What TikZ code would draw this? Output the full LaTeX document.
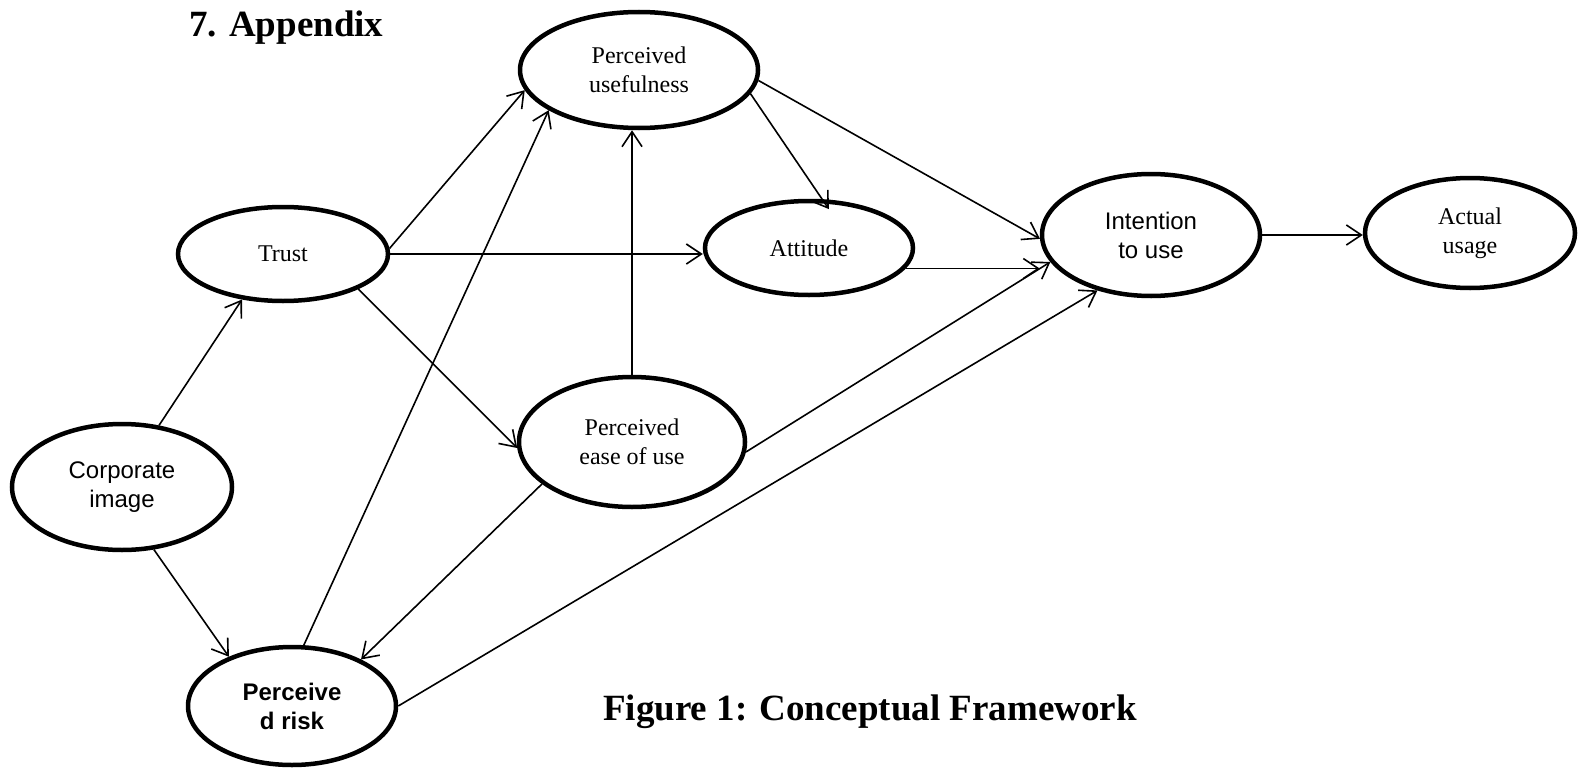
\documentclass[tikz,border=0pt]{standalone}
\usepackage{fontspec}
\setmainfont{Liberation Serif}
\newfontfamily\arialf{Liberation Sans}
\usetikzlibrary{shapes.geometric,arrows.meta}
\begin{document}
\begin{tikzpicture}[x=1pt,y=-1pt,
  oval/.style={ellipse, draw, line width=4.5pt, inner sep=0pt, align=center,
    font=\fontsize{24}{29}\selectfont},
  arr/.style={line width=1.6pt, -{Straight Barb[length=15pt,width=20pt]}},
  head/.style={font=\fontsize{37}{44}\selectfont\bfseries, inner sep=0pt}]
\useasboundingbox (0,0) rectangle (1584,768);
\node[head, anchor=base west] (title) at (189,37) {7. Appendix};
\node[head, anchor=base west] (caption) at (603,720) {Figure 1: Conceptual Framework};

\node[oval, minimum width=238pt, minimum height=116pt] (pu) at (639,70) {Perceived\\usefulness};
\node[oval, minimum width=210pt, minimum height=94pt] (trust) at (283,254) {Trust};
\node[oval, minimum width=208pt, minimum height=94pt] (att) at (809,248) {Attitude};
\node[oval, minimum width=218pt, minimum height=122pt, font=\arialf\fontsize{24}{29}\selectfont] (int) at (1151,235) {Intention\\to use};
\node[oval, minimum width=210pt, minimum height=110pt] (act) at (1470,233) {Actual\\usage};
\node[oval, minimum width=220pt, minimum height=126pt, font=\arialf\fontsize{24}{29}\selectfont] (corp) at (122,487) {Corporate\\image};
\node[oval, minimum width=226pt, minimum height=130pt] (peou) at (632,442) {Perceived\\ease of use};
\node[oval, minimum width=208pt, minimum height=118pt, font=\arialf\bfseries\fontsize{24}{29}\selectfont] (pr) at (292,706) {Perceive\\d risk};

\draw[arr] (corp.59) -- (trust.-132);
\draw[arr] (corp.-63) -- (pr.142);
\draw[arr] (trust.3) -- (pu.190);
\draw[arr] (trust.east) -- (trust.east -| att.west);
\draw[arr] (trust.-25) -- (peou.183);
\draw[arr] (pr.79) -- (pu.204);
\draw[arr] (peou.north) -- (peou.north |- pu.south);
\draw[arr] (peou.205) -- (pr.34);
\draw[arr] (peou.-5) -- (int.195);
\draw[arr] (pr.east) -- (int.226);
\draw[arr, shorten >=-12pt] (pu.-12) -- (att.75);
\draw[arr] (pu.-5) -- (int.182);
\draw[arr] (att.-12) -- (att.-12 -| int.west);
\draw[arr] (int.east) -- (int.east -| act.west);
\end{tikzpicture}
\end{document}
